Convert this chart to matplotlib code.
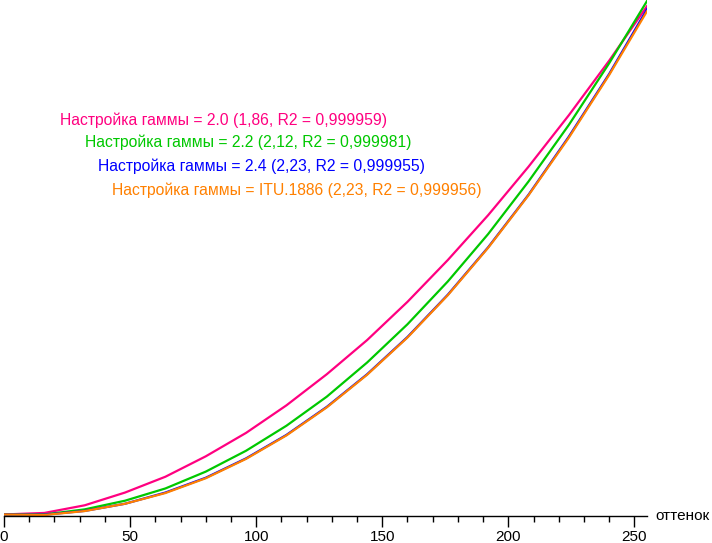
import matplotlib
matplotlib.use("Agg")
from matplotlib import pyplot as plt
from matplotlib.ticker import MultipleLocator

plt.rcParams['font.family'] = ['Liberation Sans', 'DejaVu Sans']

# оттенок (0..255) и относительная яркость
shade = [0, 16, 32, 48, 64, 80, 96, 112, 128, 144, 160, 176, 192, 208, 224, 240, 255]
gamma_20 = [0.3, 0.6, 2.1, 4.6, 7.7, 11.7, 16.3, 21.7, 27.8, 34.5, 42.0, 50.2, 59.0, 68.5, 78.6, 89.3, 100.0]
gamma_22 = [0.3, 0.3, 1.3, 3.0, 5.4, 8.7, 12.8, 17.7, 23.4, 30.1, 37.6, 46.0, 55.3, 65.6, 76.7, 88.8, 101.0]
gamma_24 = [0.3, 0.25, 1.0, 2.4, 4.6, 7.5, 11.3, 15.9, 21.4, 27.8, 35.1, 43.4, 52.7, 63.0, 74.4, 86.7, 99.4]
gamma_itu = [0.3, 0.2, 0.97, 2.4, 4.5, 7.4, 11.2, 15.8, 21.3, 27.7, 35.0, 43.3, 52.6, 62.9, 74.2, 86.5, 99.0]

labels = [
    "Настройка гаммы = 2.0 (1,86, R2 = 0,999959)",
    "Настройка гаммы = 2.2 (2,12, R2 = 0,999981)",
    "Настройка гаммы = 2.4 (2,23, R2 = 0,999955)",
    "Настройка гаммы = ITU.1886 (2,23, R2 = 0,999956)",
]
colors = ['#ff0080', '#00c800', '#0000ff', '#ff8000']

W, H = 712, 543
fig = plt.figure(figsize=(W / 100, H / 100), dpi=100)
ax = fig.add_axes([4 / W, 27 / H, 643 / W, 516 / H])

for y, c in zip([gamma_20, gamma_22, gamma_24, gamma_itu], colors):
    ax.plot(shade, y, color=c, lw=1.6, solid_joinstyle='round')

ax.set_xlim(0, 255)
ax.set_ylim(0, 101.2)
for s in ['left', 'right', 'top']:
    ax.spines[s].set_visible(False)
ax.spines['bottom'].set_linewidth(1.0)
ax.set_yticks([])
ax.xaxis.set_major_locator(MultipleLocator(50))
ax.xaxis.set_minor_locator(MultipleLocator(10))
ax.tick_params(axis='x', which='major', length=8, width=1, labelsize=11, pad=2)
ax.tick_params(axis='x', which='minor', length=4, width=1)
fig.text(655 / W, 1 - 516 / H, "оттенок", fontsize=11, va='center', ha='left')

# подписи кривых
pos = [(60, 120), (85, 142), (98, 166), (112, 190)]
for (px, py), t, c in zip(pos, labels, colors):
    fig.text(px / W, 1 - py / H, t, color=c, fontsize=11.3, va='center', ha='left')

fig.savefig("out.png", dpi=100)
